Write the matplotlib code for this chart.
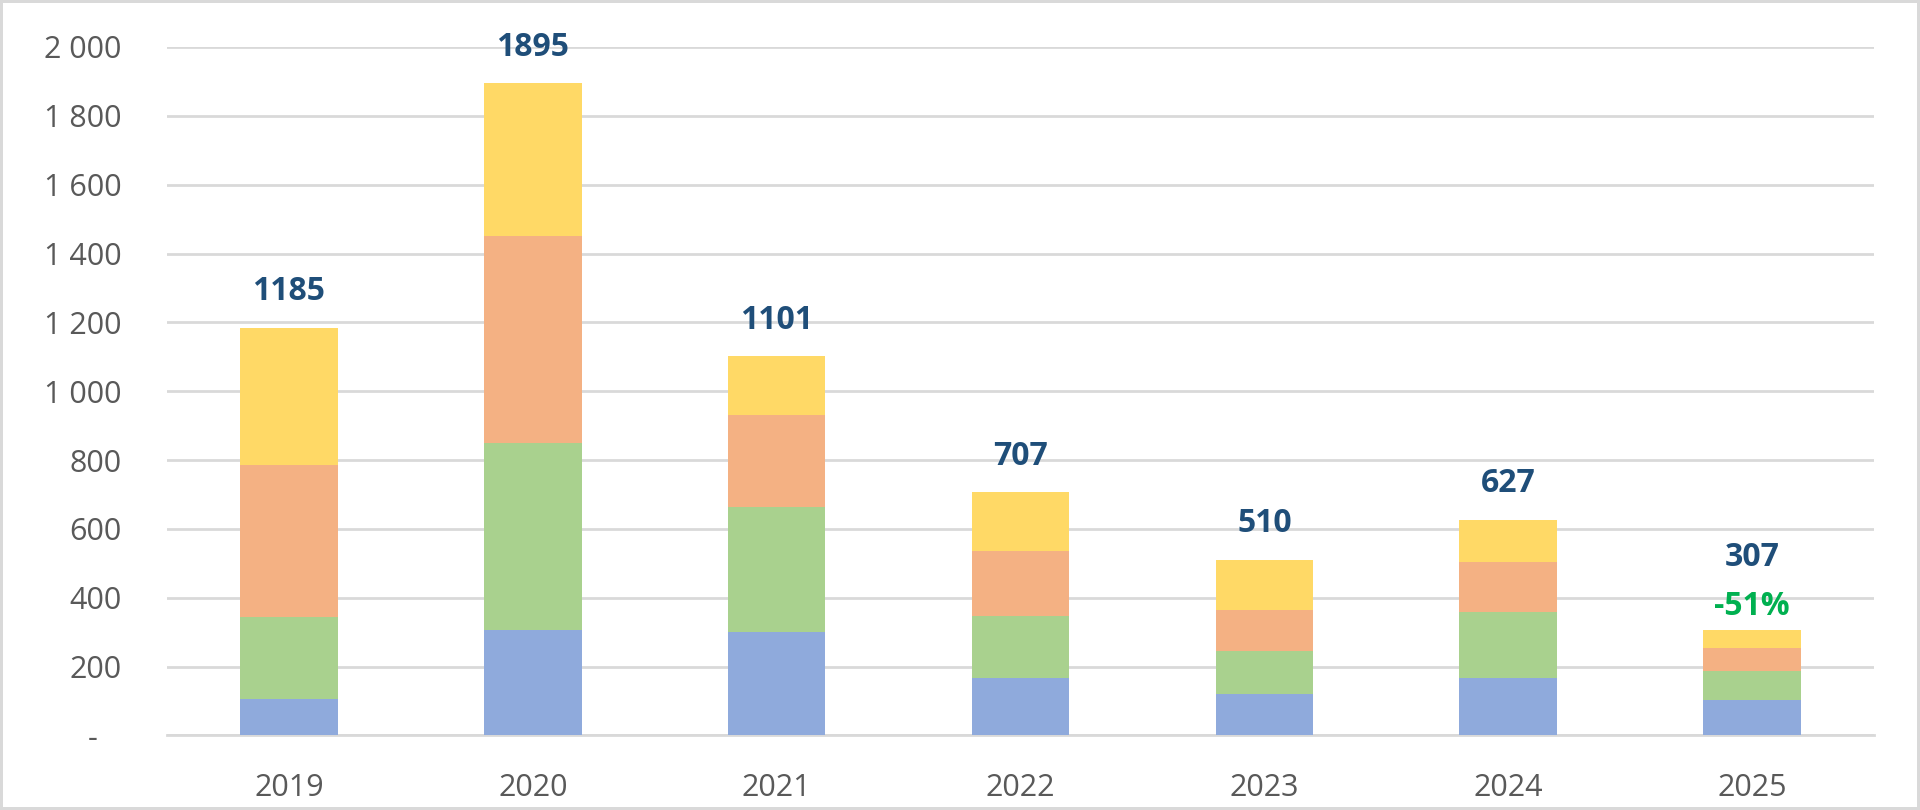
import matplotlib
matplotlib.use("Agg")
import matplotlib.pyplot as plt
import numpy as np

years = ["2019", "2020", "2021", "2022", "2023", "2024", "2025"]
blue = [105, 305, 300, 167, 121, 167, 102]
green = [240, 545, 363, 181, 123, 191, 85]
orange = [442, 600, 267, 188, 120, 146, 66]
yellow = [398, 445, 171, 171, 146, 123, 54]
totals = [1185, 1895, 1101, 707, 510, 627, 307]
change_label = "-51%"

yticks = [0, 200, 400, 600, 800, 1000, 1200, 1400, 1600, 1800, 2000]

plt.rcParams['font.family'] = ['Open Sans', 'DejaVu Sans']

fig = plt.figure(figsize=(19.2, 8.1), dpi=100)
ax = fig.add_axes([0.087, 0.092, 0.889, 0.850])

x = np.arange(len(years))
w = 0.40
series = [(blue, "#8FAADC"), (green, "#A9D18E"), (orange, "#F4B183"), (yellow, "#FFD966")]
bottom = np.zeros(len(years))
for vals, col in series:
    ax.bar(x, vals, w, bottom=bottom, color=col, zorder=3)
    bottom += np.array(vals)

for i, t in enumerate(totals):
    # last bar carries the percent label under its total
    off = 40 if i == len(totals) - 1 else 14
    ax.annotate(str(t), (x[i], bottom[i]), xytext=(0, off), textcoords="offset points",
                ha="center", va="bottom", fontsize=23, fontweight="bold", color="#1F4E79")

ax.annotate(change_label, (x[-1], bottom[-1]), xytext=(0, 5), textcoords="offset points",
            ha="center", va="bottom", fontsize=23, fontweight="bold", color="#00B050")

ax.set_xlim(-0.5, len(years) - 0.5)
ax.set_ylim(0, 2000)
ax.set_yticks(yticks)
# excel accounting style: zero shown as a dash
ax.set_yticklabels(["-   " if v == 0 else f"{v:,}".replace(",", " ") for v in yticks])
ax.set_xticks(x)
ax.set_xticklabels(years)
ax.tick_params(axis="both", length=0, labelsize=22, labelcolor="#595959")
ax.tick_params(axis="x", pad=27)
ax.tick_params(axis="y", pad=33)

ax.grid(axis="y", color="#D9D9D9", linewidth=2, zorder=0)
for s in ["top", "right", "left"]:
    ax.spines[s].set_visible(False)
ax.spines["bottom"].set_color("#D9D9D9")
ax.spines["bottom"].set_linewidth(2)

fig.patch.set_edgecolor("#D9D9D9")
fig.patch.set_linewidth(3)

plt.savefig("out.png", dpi=100)
